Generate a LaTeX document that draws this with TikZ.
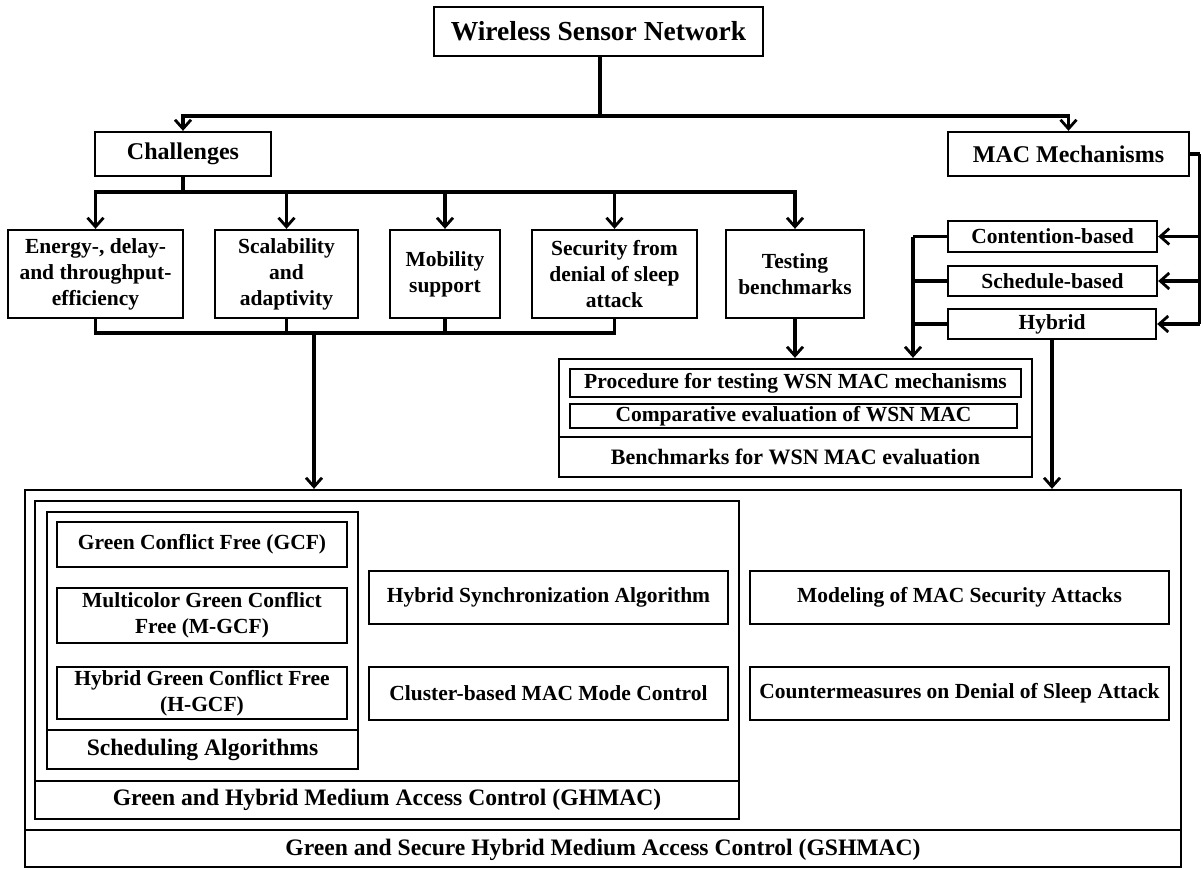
\documentclass[tikz,border=0pt]{standalone}
\usepackage{fontspec}
\setmainfont{Liberation Serif}
\usetikzlibrary{arrows.meta}
\begin{document}
\begin{tikzpicture}[x=1pt,y=-1pt,
  box/.style={draw, line width=2.3pt, inner sep=0pt, align=center,
    font=\bfseries\fontsize{21.5}{26}\selectfont},
  bigbox/.style={box, font=\bfseries\fontsize{24}{28}\selectfont},
  lbl/.style={inner sep=0pt, align=center, font=\bfseries\fontsize{23.6}{28}\selectfont},
  conn/.style={line width=3.3pt},
  arr/.style={conn, -{Straight Barb[length=9pt,width=16pt,line width=2.8pt]}},
  rule/.style={line width=2.3pt}
]
\useasboundingbox (0,0) rectangle (1203,870);

% --- top level ---
\node[box, minimum width=329pt, minimum height=49pt, font=\bfseries\fontsize{27.5}{32}\selectfont]
  (wsn) at (598.5,31.5) {Wireless Sensor Network};
\node[bigbox, minimum width=176pt, minimum height=44pt] (chal) at (183,154) {Challenges};
\node[bigbox, minimum width=241pt, minimum height=44pt] (mac) at (1068.5,154) {MAC Mechanisms};

% --- challenges ---
\node[box, minimum width=175pt, minimum height=88pt] (c1) at (95.5,274) {Energy-, delay-\\and throughput-\\efficiency};
\node[box, minimum width=143pt, minimum height=88pt] (c2) at (286.5,274) {Scalability\\and\\adaptivity};
\node[box, minimum width=110pt, minimum height=88pt] (c3) at (445,274) {Mobility\\support};
\node[box, minimum width=165pt, minimum height=88pt] (c4) at (614.5,274) {Security from\\denial of sleep\\attack};
\node[box, minimum width=138pt, minimum height=88pt] (c5) at (795,274) {Testing\\benchmarks};

% --- MAC mechanism classes ---
\node[box, minimum width=209pt, minimum height=31pt] (cont) at (1052.5,236.5) {Contention-based};
\node[box, minimum width=209pt, minimum height=30pt] (sched) at (1052.5,281) {Schedule-based};
\node[box, minimum width=208pt, minimum height=30pt] (hyb) at (1052,324) {Hybrid};

% --- benchmarks block ---
\node[draw, rule, minimum width=473pt, minimum height=118pt, inner sep=0pt] (bench) at (795.5,418) {};
\draw[rule] (bench.west |- 0,437) -- (bench.east |- 0,437);
\node[box, minimum width=451pt, minimum height=28pt] (proc) at (795.5,383) {Procedure for testing WSN MAC mechanisms};
\node[box, minimum width=447pt, minimum height=24pt] (comp) at (793.5,416) {Comparative evaluation of WSN MAC};
\node[lbl, font=\bfseries\fontsize{22}{26}\selectfont] (benchlbl) at (795.5,457) {Benchmarks for WSN MAC evaluation};

% --- GSHMAC block ---
\node[draw, rule, minimum width=1156pt, minimum height=377pt, inner sep=0pt] (gsh) at (603,678.5) {};
\draw[rule] (gsh.west |- 0,830) -- (gsh.east |- 0,830);
\node[lbl] (gshlbl) at (603,849.5) {Green and Secure Hybrid Medium Access Control (GSHMAC)};

\node[draw, rule, minimum width=704pt, minimum height=318pt, inner sep=0pt] (ghm) at (387,660) {};
\draw[rule] (ghm.west |- 0,781) -- (ghm.east |- 0,781);
\node[lbl] (ghmlbl) at (387,800) {Green and Hybrid Medium Access Control (GHMAC)};

\node[draw, rule, minimum width=311pt, minimum height=257pt, inner sep=0pt] (alg) at (202.5,640.5) {};
\draw[rule] (alg.west |- 0,730) -- (alg.east |- 0,730);
\node[lbl] (alglbl) at (202.5,749.5) {Scheduling Algorithms};

\node[box, minimum width=290pt, minimum height=45pt] (gcf) at (202,544.5) {Green Conflict Free (GCF)};
\node[box, minimum width=290pt, minimum height=55pt] (mgcf) at (202,615.5) {Multicolor Green Conflict\\Free (M-GCF)};
\node[box, minimum width=290pt, minimum height=52pt] (hgcf) at (202,693) {Hybrid Green Conflict Free\\(H-GCF)};

\node[box, minimum width=359pt, minimum height=53pt] (hsa) at (548.5,597.5) {Hybrid Synchronization Algorithm};
\node[box, minimum width=359pt, minimum height=53pt] (cmm) at (548.5,693.5) {Cluster-based MAC Mode Control};
\node[box, minimum width=419pt, minimum height=53pt] (msa) at (959.5,597.5) {Modeling of MAC Security Attacks};
\node[box, minimum width=419pt, minimum height=53pt] (cds) at (959.5,693.5) {Countermeasures on Denial of Sleep Attack};

% --- connectors: network to its two branches ---
\coordinate (split) at (600,116);
\draw[conn] (wsn.south -| split) -- (split);
\draw[arr] (split) -| (chal.north);
\draw[arr] (split) -| (mac.north);

% --- challenges fan out ---
\coordinate (cbus) at (183,192);
\draw[conn] (chal.south) -- (cbus);
\draw[arr] (cbus) -| (c1.north);
\draw[arr] (cbus) -| (c2.north);
\draw[arr] (cbus) -| (c3.north);
\draw[arr] (cbus) -| (c4.north);
\draw[arr] (cbus) -| (c5.north);

% --- four challenges merge into GSHMAC ---
\coordinate (mbus) at (314,333);
\draw[conn] (c1.south) |- (mbus);
\draw[conn] (c4.south) |- (mbus);
\draw[conn] (c2.south) -- (c2.south |- mbus);
\draw[conn] (c3.south) -- (c3.south |- mbus);
\draw[arr] (mbus) -- (mbus |- gsh.north);

% --- testing benchmarks ---
\draw[arr] (c5.south) -- (c5.south |- bench.north);

% --- MAC mechanisms to its classes ---
\coordinate (rbar) at (1199.5,154);
\draw[conn] (mac.east) -- (rbar);
\draw[conn] (rbar) -- (rbar |- hyb.east);
\draw[arr] (rbar |- cont.east) -- (cont.east);
\draw[arr] (rbar |- sched.east) -- (sched.east);
\draw[arr] (rbar |- hyb.east) -- (hyb.east);

% --- classes merge into benchmarks ---
\coordinate (lbar) at (913,236.5);
\draw[conn] (cont.west) -- (lbar);
\draw[conn] (sched.west) -- (sched.west -| lbar);
\draw[conn] (hyb.west) -- (hyb.west -| lbar);
\draw[arr] (lbar) -- (lbar |- bench.north);

% --- hybrid into GSHMAC ---
\draw[arr] (hyb.south) -- (hyb.south |- gsh.north);
\end{tikzpicture}
\end{document}
